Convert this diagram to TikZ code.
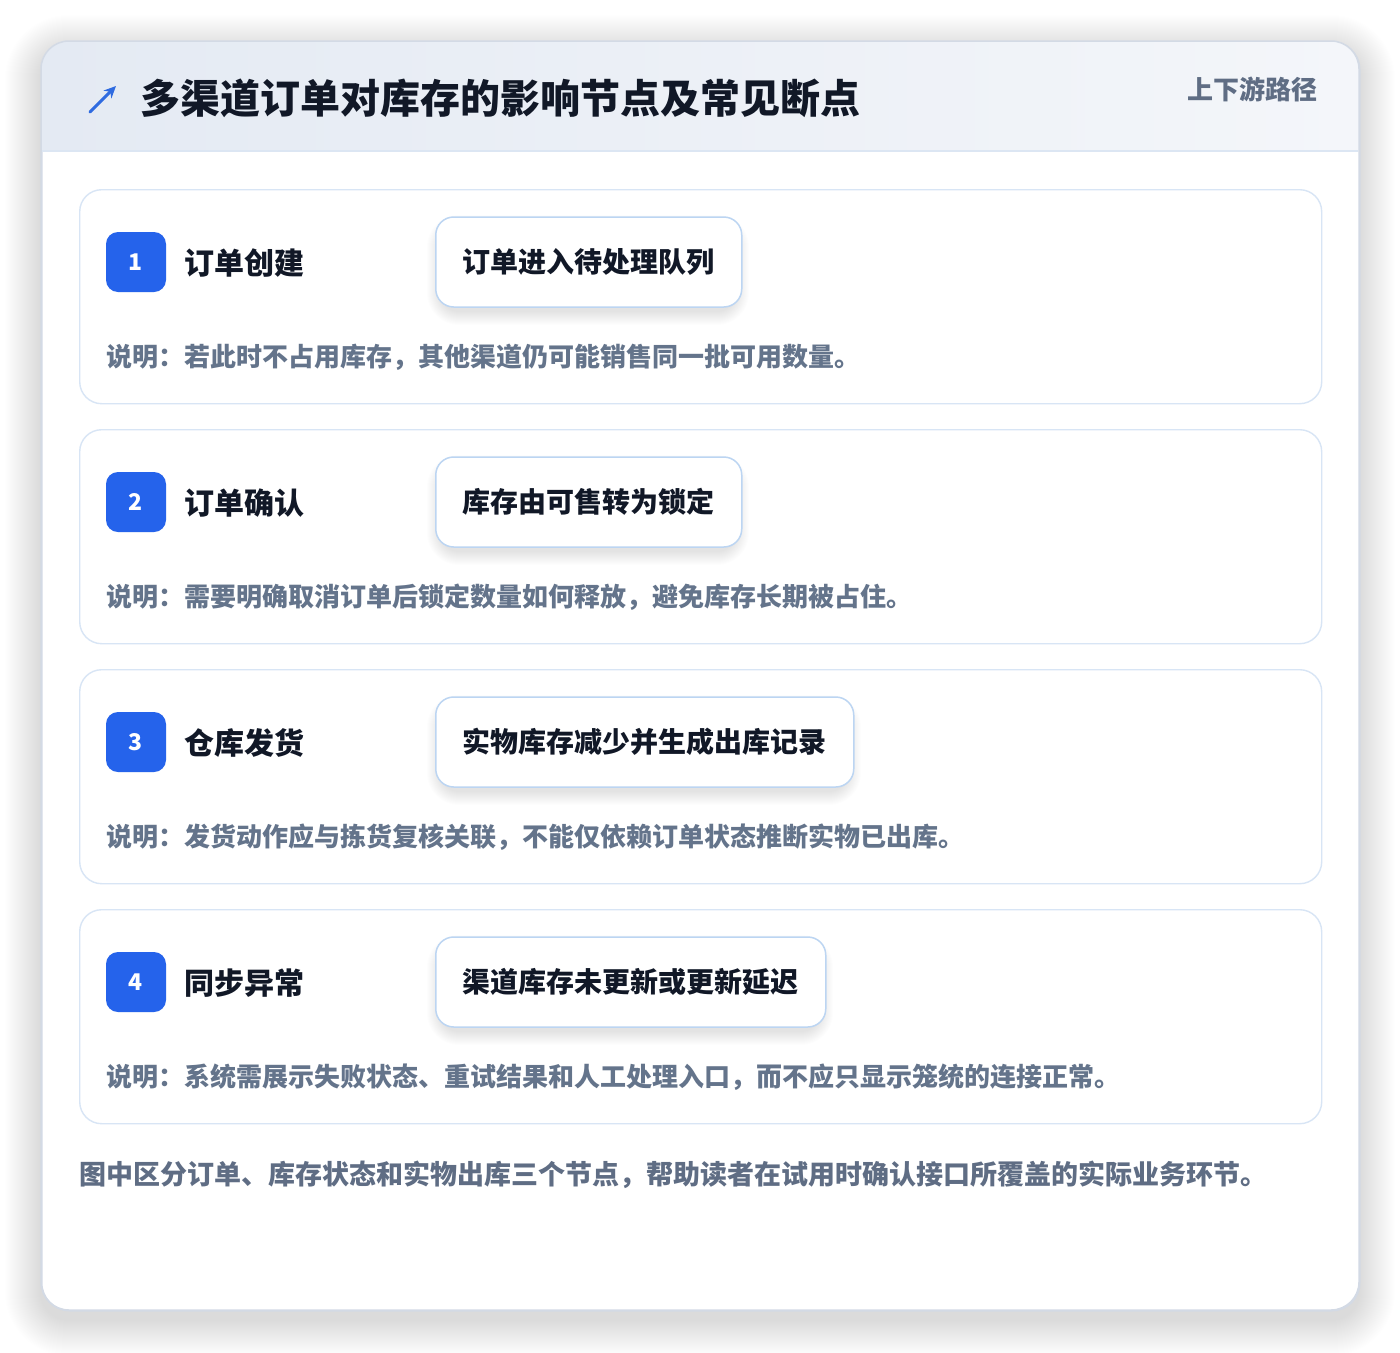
\documentclass[tikz,border=0pt]{standalone}
\usepackage{fontspec}
\setmainfont{Noto Sans CJK SC}
\usetikzlibrary{arrows.meta}
\definecolor{cardborder}{HTML}{D3DAE5}
\definecolor{hdrL}{HTML}{E4EAF3}
\definecolor{hdrR}{HTML}{F4F6FA}
\definecolor{sepline}{HTML}{DCE6F3}
\definecolor{stepborder}{HTML}{D8E5F5}
\definecolor{boxborder}{HTML}{BCD5F2}
\definecolor{badgeblue}{HTML}{2563EB}
\definecolor{darktext}{HTML}{111827}
\definecolor{notegray}{HTML}{64748B}
\definecolor{subgray}{HTML}{5F6D84}
\definecolor{iconblue}{HTML}{2F6BE0}
\newcommand\mysoftshadow[8]{% x1 y1 x2 y2 radius steps opacity yshift
  \foreach \s in {1,...,#6}{
    \pgfmathsetmacro{\rr}{#5+\s}
    \fill[black, opacity=#7, rounded corners=\rr pt]
      ({#1-\s},{#2-\s+#8}) rectangle ({#3+\s},{#4+\s+#8});
  }}
\tikzset{
  stepcard/.style={draw=stepborder, line width=1.4pt, fill=white, rounded corners=22pt,
    anchor=north west, minimum width=1242pt, minimum height=214pt, inner sep=0pt},
  badge/.style={fill=badgeblue, rounded corners=12pt, minimum width=60pt, minimum height=60pt,
    inner sep=0pt, text=white, font=\fontsize{23pt}{26pt}\selectfont\bfseries},
  steptitle/.style={anchor=west, inner sep=0pt, text=darktext, font=\fontsize{30pt}{36pt}\selectfont\bfseries},
  effectbox/.style={anchor=west, draw=boxborder, line width=1.5pt, fill=white, rounded corners=18pt,
    minimum height=90pt, inner xsep=27pt, inner ysep=0pt, text=darktext,
    font=\fontsize{28pt}{34pt}\selectfont\bfseries},
  notetext/.style={anchor=west, inner sep=0pt, text=notegray, font=\fontsize{26pt}{30pt}\selectfont\bfseries},
}
\begin{document}
\begin{tikzpicture}[x=1pt,y=-1pt]
\useasboundingbox (0,0) rectangle (1400,1352);
\fill[white] (0,0) rectangle (1400,1352);
% main card shadow
\mysoftshadow{41}{41}{1359}{1310}{28}{36}{0.0035}{10}
% main card
\node[draw=cardborder, line width=1.5pt, fill=white, rounded corners=28pt, anchor=north west,
  minimum width=1318pt, minimum height=1269pt, inner sep=0pt] (card) at (41,41) {};
\begin{scope}
  \clip[rounded corners=28pt] (41,41) rectangle (1359,1310);
  \shade[left color=hdrL, right color=hdrR] (41,41) rectangle (1359,151);
\end{scope}
\draw[sepline, line width=1.5pt] (42,151) -- (1358,151);
\draw[cardborder, line width=1.5pt, rounded corners=28pt] (41,41) rectangle (1359,1310);
% header
\coordinate (icA) at (90,112);
\coordinate (icB) at (116,86);
\draw[iconblue, line width=3pt, line cap=round, -{Stealth[length=12pt,width=11pt]}] (icA) -- (icB);
\node[anchor=west, inner sep=0pt, text=darktext, font=\fontsize{40pt}{46pt}\selectfont\bfseries] (title) at (140,98) {多渠道订单对库存的影响节点及常见断点};
\node[anchor=east, inner sep=0pt, text=subgray, font=\fontsize{26pt}{30pt}\selectfont\bfseries] (path) at (1318,89) {上下游路径};
% steps
\foreach \i/\t/\e/\n/\bw [count=\k from 0] in {
  1/订单创建/订单进入待处理队列/说明：若此时不占用库存，其他渠道仍可能销售同一批可用数量。/741,
  2/订单确认/库存由可售转为锁定/说明：需要明确取消订单后锁定数量如何释放，避免库存长期被占住。/741,
  3/仓库发货/实物库存减少并生成出库记录/说明：发货动作应与拣货复核关联，不能仅依赖订单状态推断实物已出库。/853,
  4/同步异常/渠道库存未更新或更新延迟/说明：系统需展示失败状态、重试结果和人工处理入口，而不应只显示笼统的连接正常。/825}
{
  \pgfmathsetmacro{\top}{189+240*\k}
  \node[stepcard] (card\i) at (79,\top) {};
  \mysoftshadow{441}{\top+36}{\bw-6}{\top+118}{18}{14}{0.006}{4}
  \node[badge] (badge\i) at (136,\top+73) {\i};
  \node[steptitle] (title\i) at (184,\top+74) {\t};
  \node[effectbox] (box\i) at (435,\top+73) {\e};
  \node[notetext] (note\i) at (106,\top+168) {\n};
}
\node[anchor=west, inner sep=0pt, text=subgray, font=\fontsize{27pt}{30pt}\selectfont\bfseries] (footer) at (79,1175) {图中区分订单、库存状态和实物出库三个节点，帮助读者在试用时确认接口所覆盖的实际业务环节。};
\end{tikzpicture}
\end{document}
